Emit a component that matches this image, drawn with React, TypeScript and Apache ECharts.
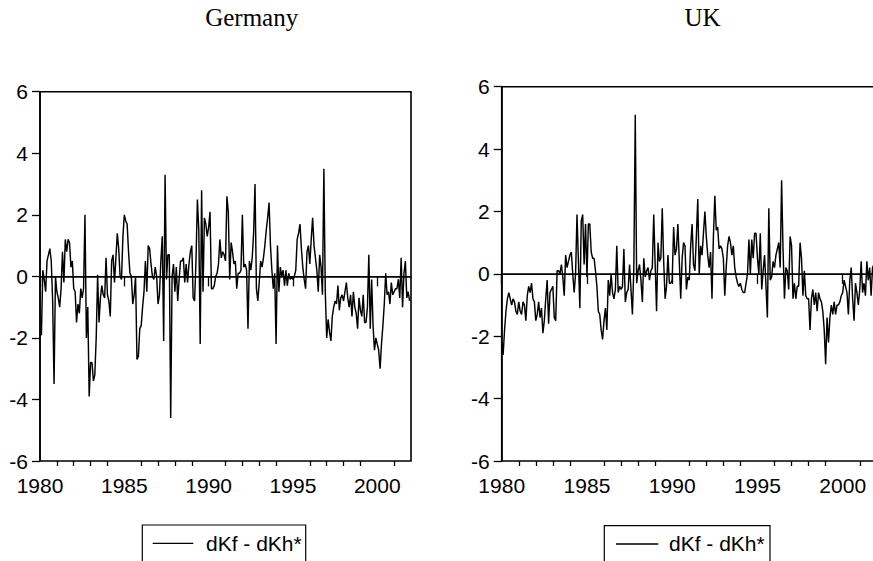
import React, { useEffect, useRef } from "react";
import * as echarts from "echarts";

// Monthly observations, 1980M01 .. 2001M12
const germanyValues: number[] = [
  -1.9, -1.9, 0.2, -0.1, -0.5, 0.5, 0.7, 0.9, 0.5, -0.8,
  -3.5, 0.0, -0.5, -0.7, -1.0, -0.4, 0.8, -0.2, 1.2, 0.8,
  1.2, 1.1, 0.3, 0.5, -0.4, -0.5, -1.5, -0.9, -1.2, -0.4,
  -0.7, -0.4, 2.0, -2.0, -1.0, -3.9, -2.8, -2.8, -3.4, -3.2,
  -2.0, 0.05, -1.5, -0.7, -0.3, -0.6, -0.7, 0.6, -0.6, -0.8,
  -1.3, 0.5, 0.7, -0.2, 0.6, 1.4, 0.9, 0.0, -0.1, 1.3,
  2.0, 1.8, 1.7, 0.8, 0.1, 0.0, -0.9, -0.6, 0.0, -2.7,
  -2.6, -1.7, -1.6, -1.0, -0.5, 0.5, -0.5, 1.0, 0.9, 0.4,
  0.0, -0.1, 0.3, 0.0, -0.9, -0.6, 0.5, 1.3, -2.1, 3.3,
  -0.1, 0.7, 0.7, -4.6, 0.0, 0.4, -0.5, 0.3, -0.8, -0.1,
  0.5, 0.5, 0.6, -0.2, 0.4, -0.2, 0.4, 0.8, 1.0, -0.7,
  -0.8, 0.5, 2.5, 1.5, -2.2, 2.8, -0.5, 1.9, 1.7, 1.3,
  1.6, 2.1, -0.4, -0.4, -0.3, 0.0, 0.1, 0.4, 1.2, 0.6,
  0.8, 0.7, 0.5, 2.6, 2.1, -0.1, 1.1, 0.8, 0.4, 0.5,
  -0.4, 0.1, 0.1, 0.2, 2.0, 0.3, 0.4, 0.2, -1.7, 0.5,
  0.2, 0.6, 1.4, 3.0, -0.4, -0.8, -0.2, 0.5, 0.3, 0.6,
  1.0, 1.5, 1.9, 2.4, 1.0, 0.2, -0.4, 0.1, -2.2, 1.0,
  -0.5, 0.3, 0.0, 0.2, -0.3, 0.2, -0.3, 0.1, -0.1, 0.0,
  -0.1, 0.0, 0.2, 1.2, 1.4, 1.7, 0.9, 0.3, -0.1, -0.4,
  0.8, 1.0, 0.4, 1.2, 1.9, 1.0, 0.6, 0.2, -0.5, 0.7,
  0.3, -0.6, 3.5, -0.5, -2.0, -1.4, -1.8, -2.1, -1.3, -1.0,
  -0.8, -0.9, -0.3, -1.1, -0.7, -0.6, -0.8, -0.5, -0.2, -0.7,
  -1.0, -0.6, -1.3, -0.5, -1.0, -1.2, -1.7, -0.7, -1.1, -1.3,
  -0.6, -1.5, -1.5, -1.0, 0.7, -1.7, -0.1, -1.6, -2.4, -2.0,
  -2.2, -2.4, -3.0, -2.2, -1.6, -0.9, 0.1, -0.6, -0.5, -0.9,
  -0.2, -0.6, -0.5, -0.4, -0.4, -0.1, -0.7, 0.6, -1.0, 0.1,
  0.5, -0.7, -0.5, -0.8,
];

const ukValues: number[] = [
  -2.2, -2.6, -1.8, -1.2, -0.8, -0.6, -0.8, -1.0, -0.8, -0.9,
  -1.2, -1.3, -0.9, -1.2, -1.3, -0.9, -1.0, -1.5, -0.7, -0.4,
  -0.6, -0.3, -0.8, -0.9, -1.5, -1.3, -0.9, -1.4, -1.1, -1.9,
  -1.5, -0.8, -0.2, -1.6, -0.6, -0.5, -0.4, -1.4, -1.5, 0.1,
  0.1, 0.0, 0.3, -0.1, -0.7, 0.6, 0.2, 0.4, 0.6, 0.7,
  0.0, -0.6, 0.0, 1.9, 0.4, -1.1, 1.7, 1.9, 0.3, 1.6,
  -0.1, 1.6, 1.6, 0.7, 0.5, 0.5, 0.1, -0.4, -1.2, -1.3,
  -1.8, -2.1, -1.5, -1.1, -1.8, -0.2, -0.7, 0.0, -0.6, -0.8,
  -0.5, 0.9, -0.6, -0.4, -0.5, -0.4, 0.8, -0.9, -0.6, -0.5,
  0.3, -0.5, -1.3, 0.2, 5.1, -0.3, 0.1, 0.3, -0.2, -0.9,
  0.5, -0.1, 0.1, 0.2, -0.2, 0.1, 0.2, 1.9, 0.3, -1.2,
  1.0, 0.4, 0.5, 2.1, 0.4, -0.8, -0.4, 0.6, -0.3, -0.3,
  -0.2, 1.5, 0.6, 0.8, 1.6, 0.4, -0.8, 0.5, 1.0, 0.9,
  -0.5, -0.1, -0.2, 0.9, 1.6, 0.3, 0.1, 1.2, 2.4, 0.0,
  0.9, 0.6, 1.3, 2.0, 1.2, 0.6, 0.2, 0.7, -0.8, 1.2,
  2.5, 1.4, 1.5, 0.8, 0.9, 0.8, 0.5, -0.7, 0.2, 0.9,
  1.2, 1.0, 0.6, 0.9, 0.2, -0.1, -0.3, -0.4, -0.3, -0.5,
  -0.6, -0.6, -0.3, 0.0, 1.1, 0.0, 1.1, 0.5, 1.3, 1.3,
  0.5, 0.0, 1.3, -0.5, 0.1, 0.6, -0.4, -1.4, 2.1, -0.2,
  -0.1, 0.4, 0.2, 0.6, 0.8, 1.0, 0.2, 3.0, 0.8, -0.8,
  0.2, 0.1, -0.5, 1.2, 0.9, -0.8, -0.3, -0.8, -0.4, -0.4,
  1.0, 0.5, -0.7, 0.1, -0.7, -0.8, -0.8, -1.8, -0.8, -0.5,
  -1.0, -0.6, -1.2, -0.6, -0.8, -0.9, -1.2, -1.8, -2.9, -1.4,
  -2.2, -1.4, -1.0, -1.3, -0.9, -1.3, -1.0, -1.0, -0.9, -0.7,
  -0.6, -0.2, -0.4, -0.6, -1.3, -0.2, 0.2, -0.8, -1.5, -0.3,
  -0.6, -1.0, -0.5, 0.4, -0.6, -0.3, -0.7, 0.4, -0.2, 0.2,
  -0.7, 0.2, 0.3, -0.3,
];

const START_YEAR = 1980;
const END_YEAR = 2002;
const majorYears: number[] = [1980, 1985, 1990, 1995, 2000];
const minorYears: number[] = [
  1981, 1982, 1983, 1984, 1986, 1987, 1988, 1989, 1991, 1992, 1993, 1994,
  1996, 1997, 1998, 1999, 2001,
];
const yMin = -6;
const yMax = 6;
const yStep = 2;
const panelTitles: string[] = ["Germany", "UK"];
const seriesName = "dKf - dKh*";

const SANS = "Liberation Sans";
const SERIF = "Liberation Serif";

function toPoints(values: number[]): number[][] {
  return values.map((v, i) => [START_YEAR + i / 12, v]);
}

export default function App() {
  const ref = useRef<HTMLDivElement>(null);

  useEffect(() => {
    if (!ref.current) return;
    const chart = echarts.init(ref.current, undefined, { renderer: "svg" });

    const grids = [
      { left: 40, top: 91.7, width: 371, height: 369.3 },
      { left: 501.7, top: 86.7, width: 375.1, height: 374.3 },
    ];

    const xAxes: any[] = [];
    const yAxes: any[] = [];
    grids.forEach((_, gi) => {
      xAxes.push({
        type: "value",
        gridIndex: gi,
        position: "bottom",
        min: START_YEAR,
        max: END_YEAR,
        axisLine: { show: true, lineStyle: { color: "#000", width: 1.6 } },
        axisTick: {
          show: true,
          customValues: majorYears,
          length: 10,
          lineStyle: { color: "#000", width: 1.3 },
        },
        axisLabel: {
          customValues: majorYears,
          formatter: (v: number) => String(Math.round(v)),
          color: "#000",
          fontSize: 21,
          fontFamily: SANS,
          margin: 14,
        },
        splitLine: { show: false },
      });
      xAxes.push({
        type: "value",
        gridIndex: gi,
        position: "bottom",
        min: START_YEAR,
        max: END_YEAR,
        axisLine: { show: false },
        axisTick: {
          show: true,
          customValues: minorYears,
          length: 5,
          lineStyle: { color: "#000", width: 1.3 },
        },
        axisLabel: { show: false },
        splitLine: { show: false },
      });
      yAxes.push({
        type: "value",
        gridIndex: gi,
        min: yMin,
        max: yMax,
        interval: yStep,
        axisLine: { show: true, lineStyle: { color: "#000", width: 1.6 } },
        axisTick: { show: true, length: 8, lineStyle: { color: "#000", width: 1.3 } },
        axisLabel: {
          formatter: (v: number) => String(v),
          color: "#000",
          fontSize: 21,
          fontFamily: SANS,
          margin: 12,
        },
        splitLine: { show: false },
      });
    });

    const datasets = [germanyValues, ukValues];
    const series = datasets.map((vals, gi) => ({
      type: "line",
      name: seriesName,
      xAxisIndex: gi * 2,
      yAxisIndex: gi,
      data: toPoints(vals),
      symbol: "none",
      showSymbol: false,
      lineStyle: { color: "#000", width: 1.45 },
      itemStyle: { color: "#000" },
      markLine: {
        silent: true,
        symbol: ["none", "none"],
        label: { show: false },
        lineStyle: { color: "#000", width: 1.1, type: "solid" },
        data: [{ yAxis: 0 }],
      },
    }));

    const legendBoxes = [
      { x: 142.3, y: 525, w: 163.4, lx1: 152.7, lx2: 193.3, tx: 206 },
      { x: 604.3, y: 525.7, w: 165.7, lx1: 616, lx2: 658.3, tx: 669 },
    ];
    const graphic: any[] = [];
    legendBoxes.forEach((b) => {
      graphic.push({
        type: "rect",
        shape: { x: b.x, y: b.y, width: b.w, height: 60 },
        style: { fill: "#fff", stroke: "#000", lineWidth: 1.2 },
      });
      graphic.push({
        type: "line",
        shape: { x1: b.lx1, y1: b.y + 18.3, x2: b.lx2, y2: b.y + 18.3 },
        style: { stroke: "#000", lineWidth: 1.3 },
      });
      graphic.push({
        type: "text",
        x: b.tx,
        y: b.y + 18,
        style: {
          text: seriesName,
          fontSize: 21,
          fontFamily: SANS,
          fill: "#000",
          verticalAlign: "middle",
          align: "left",
        },
      });
    });

    const titleCenters = [251.7, 702.5];
    const title = panelTitles.map((t, i) => ({
      text: t,
      left: titleCenters[i],
      top: 5,
      textAlign: "center",
      padding: 0,
      textStyle: { fontFamily: SERIF, fontSize: 25, fontWeight: "normal", color: "#000" },
    }));

    chart.setOption({
      animation: false,
      backgroundColor: "#fff",
      title,
      grid: grids.map((g) => ({
        ...g,
        show: true,
        borderColor: "#000",
        borderWidth: 1.6,
        backgroundColor: "transparent",
        containLabel: false,
      })),
      xAxis: xAxes,
      yAxis: yAxes,
      series,
      graphic,
    });

    return () => chart.dispose();
  }, []);

  return (
    <div
      style={{
        position: "fixed",
        left: 0,
        top: 0,
        width: 873,
        height: 561,
        overflow: "hidden",
        background: "#fff",
      }}
    >
      <div ref={ref} style={{ width: 890, height: 600 }} />
    </div>
  );
}
